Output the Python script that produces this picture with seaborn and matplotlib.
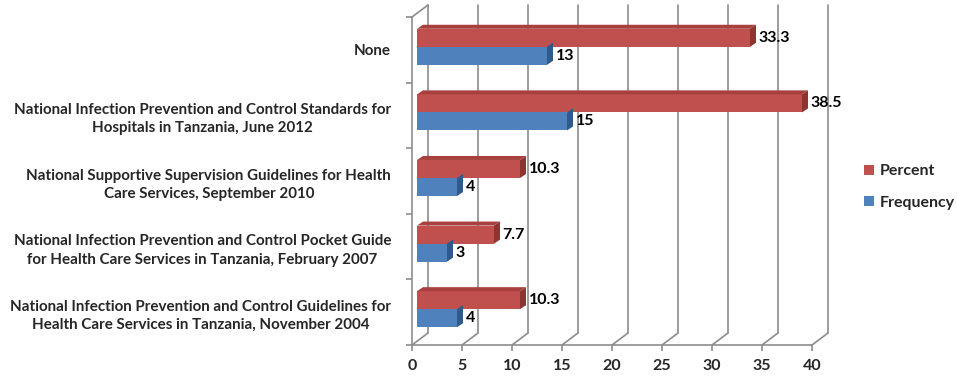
import numpy as np
import pandas as pd
import matplotlib
matplotlib.use("Agg")
import matplotlib.pyplot as plt
from matplotlib.patches import Polygon, Patch
from matplotlib.transforms import ScaledTranslation
import seaborn as sns

# data
documents = [
    "None",
    "National Infection Prevention and Control Standards for\nHospitals in Tanzania, June 2012",
    "National Supportive Supervision Guidelines for Health\nCare Services, September 2010",
    "National Infection Prevention and Control Pocket Guide\nfor Health Care Services in Tanzania, February 2007",
    "National Infection Prevention and Control Guidelines for\nHealth Care Services in Tanzania, November 2004",
]
percent = [33.3, 38.5, 10.3, 7.7, 10.3]
frequency = [13, 15, 4, 3, 4]
measures = ["Percent", "Frequency"]
x_ticks = [0, 5, 10, 15, 20, 25, 30, 35, 40]

df = pd.DataFrame({
    "doc": documents * 2,
    "value": percent + frequency,
    "measure": ["Percent"] * len(documents) + ["Frequency"] * len(documents),
})

front = {"Percent": "#C0504D", "Frequency": "#4F81BD"}
side = {"Percent": "#8E3431", "Frequency": "#2F5A8C"}
top = {"Percent": "#A8413E", "Frequency": "#3D6BA3"}
grid_col = "#8C8C8C"

sns.set_theme(style="white")
plt.rcParams["font.family"] = ["Lato", "DejaVu Sans"]
plt.rcParams["font.weight"] = "bold"

fig = plt.figure(figsize=(9.57, 3.76), dpi=100)
ax = fig.add_axes([412 / 957, 31 / 376, 416 / 957, 340 / 376])

sns.barplot(data=df, y="doc", x="value", hue="measure", hue_order=measures,
            order=documents, orient="h", palette=front, width=0.55,
            saturation=1, legend=False, ax=ax)

ax.set_xlim(0, 41.6)
ax.set_ylim(4.5, -0.683)

# 3D depth in data units (10 px per x unit, 65.6 px per category)
wall_dx, wall_dy = 1.6, 0.183
bar_dx, bar_dy = 0.6, 0.061
shift = ax.transData + ScaledTranslation(0.05, 0.03, fig.dpi_scale_trans)
label_shift = shift + ScaledTranslation(0.025, 0.0, fig.dpi_scale_trans)

for meas, cont in zip(measures, ax.containers):
    for p, v in zip(cont, cont.datavalues):
        p.set_transform(shift)
        p.set_edgecolor("none")
        x0, y0, w, h = p.get_x(), p.get_y(), p.get_width(), p.get_height()
        x1 = x0 + w
        ytop, ybot = min(y0, y0 + h), max(y0, y0 + h)
        if meas == "Percent":
            ax.add_patch(Polygon([(x0, ytop), (x1, ytop), (x1 + bar_dx, ytop - bar_dy),
                                  (x0 + bar_dx, ytop - bar_dy)], closed=True,
                                 facecolor=top[meas], edgecolor="none", transform=shift))
        ax.add_patch(Polygon([(x1, ytop), (x1 + bar_dx, ytop - bar_dy),
                              (x1 + bar_dx, ybot - bar_dy), (x1, ybot)], closed=True,
                             facecolor=side[meas], edgecolor="none", transform=shift))
        ax.text(x1 + bar_dx, (ytop + ybot) / 2, f"{v:g}", transform=label_shift,
                ha="left", va="center", fontsize=11.5, fontweight="bold", color="black")

# walls and gridlines
for s in ax.spines.values():
    s.set_visible(False)
for xt in x_ticks:
    ax.plot([xt + wall_dx, xt + wall_dx], [4.5 - wall_dy, -0.5 - wall_dy],
            color=grid_col, lw=1.2, clip_on=False, zorder=0)
    ax.plot([xt, xt + wall_dx], [4.5, 4.5 - wall_dy], color=grid_col, lw=1.2,
            clip_on=False, zorder=0)
ax.plot([0, 40], [4.5, 4.5], color=grid_col, lw=1.2, clip_on=False)
ax.plot([0, 0], [4.5, -0.5], color=grid_col, lw=1.2, clip_on=False)
ax.plot([0, wall_dx], [-0.5, -0.5 - wall_dy], color=grid_col, lw=1.2, clip_on=False)

ax.set_xticks(x_ticks)
ax.set_xticklabels([str(t) for t in x_ticks], fontsize=11.5, fontweight="bold")
ax.tick_params(axis="x", bottom=True, length=4, width=1.2, color=grid_col, pad=6)
ax.set_yticks(range(len(documents)))
ax.set_yticklabels(documents, fontsize=10.9, fontweight="bold",
                   multialignment="center", linespacing=1.4)
ax.set_yticks(np.arange(-0.5, len(documents)), minor=True)
ax.tick_params(axis="y", which="major", length=0, pad=15)
ax.tick_params(axis="y", which="minor", left=True, length=4, width=1.2, color=grid_col)
ax.set_xlabel("")
ax.set_ylabel("")

handles = [Patch(facecolor=front[m], edgecolor="none") for m in measures]
fig.legend(handles, measures, loc="center left", bbox_to_anchor=(850 / 957, 1 - 187 / 376),
           frameon=False, handlelength=0.6, handleheight=0.6, handletextpad=0.35,
           labelspacing=1.1, prop={"size": 11.5, "weight": "bold"})

fig.savefig("out.png", dpi=100, facecolor="white")
